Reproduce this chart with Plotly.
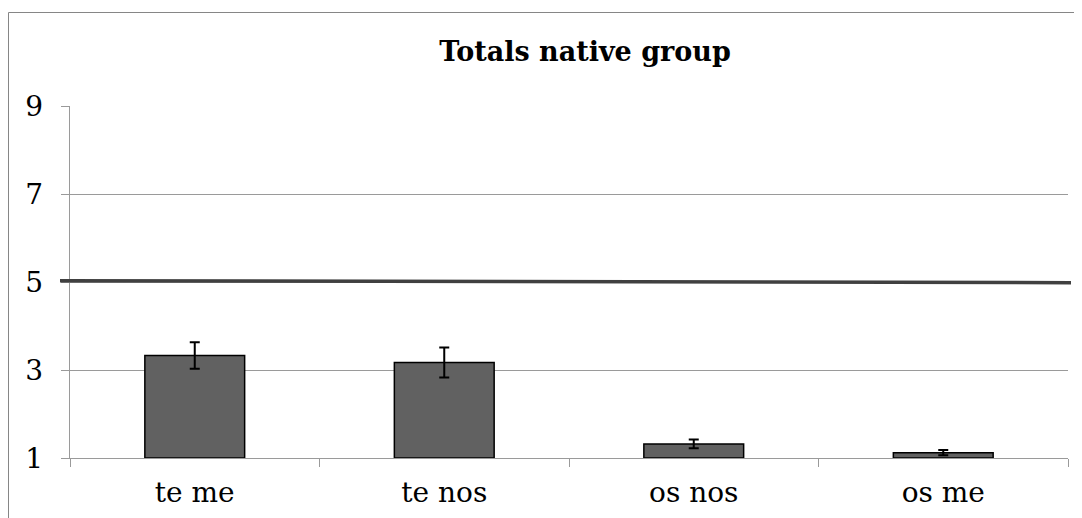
import plotly.graph_objects as go

categories = ["te me", "te nos", "os nos", "os me"]
means = [3.33, 3.17, 1.32, 1.12]
errors = [0.30, 0.34, 0.10, 0.06]
y_ticks = [1, 3, 5, 7, 9]
ref_line_y = [5.03, 4.985]

FONT = "DejaVu Serif"

# page body has an 8px margin; figure is sized/placed to compensate
W, H = 1074, 510
ML, MR, MT, MB = 62, 14, 98, 60
PW, PH = W - ML - MR, H - MT - MB

fig = go.Figure()
fig.add_trace(go.Bar(
    x=categories, y=[m - 1 for m in means], base=1,
    width=0.4,
    marker=dict(color="#616161", line=dict(color="#000000", width=1.5)),
    error_y=dict(type="data", array=errors, color="#000000", thickness=2, width=5),
    showlegend=False,
))

fig.add_shape(type="line", xref="paper", yref="y",
              x0=-10 / PW, x1=1 + 3 / PW, y0=ref_line_y[0], y1=ref_line_y[1],
              line=dict(color="#404040", width=3.5), layer="above")

# outer chart border
fig.add_shape(type="rect", xref="paper", yref="paper",
              x0=(0.5 - ML) / PW, x1=1.05, y0=-0.3, y1=(PH + MT - 4.5) / PH,
              line=dict(color="#868686", width=1), layer="below")

fig.update_layout(
    width=W, height=H,
    margin=dict(l=ML, r=MR, t=MT, b=MB, autoexpand=False),
    paper_bgcolor="white", plot_bgcolor="white",
    title=dict(text="<b>Totals native group</b>", xref="paper", x=(585 - 70) / PW,
               xanchor="center", y=1 - 44 / H, yanchor="middle",
               font=dict(family=FONT, size=27, color="#000000")),
    font=dict(family=FONT, size=26, color="#000000"),
)
fig.update_xaxes(
    automargin=False,
    showline=True, linecolor="#9a9a9a", linewidth=1.4,
    ticks="outside", tickson="boundaries", ticklen=8, tickcolor="#9a9a9a",
    tickwidth=1.4, showgrid=False, ticklabelstandoff=9,
    tickfont=dict(family=FONT, size=28, color="#000000"),
)
fig.update_yaxes(
    automargin=False,
    range=[1, 9], tickvals=y_ticks, ticktext=[str(v) for v in y_ticks],
    showline=True, linecolor="#9a9a9a", linewidth=1.4,
    ticks="outside", ticklen=8, tickcolor="#9a9a9a", tickwidth=1.4,
    showgrid=True, gridcolor="#9a9a9a", gridwidth=1.4,
    zeroline=False, ticklabelstandoff=12,
    tickfont=dict(family=FONT, size=28, color="#000000"),
)

fig.write_html("out.html")
